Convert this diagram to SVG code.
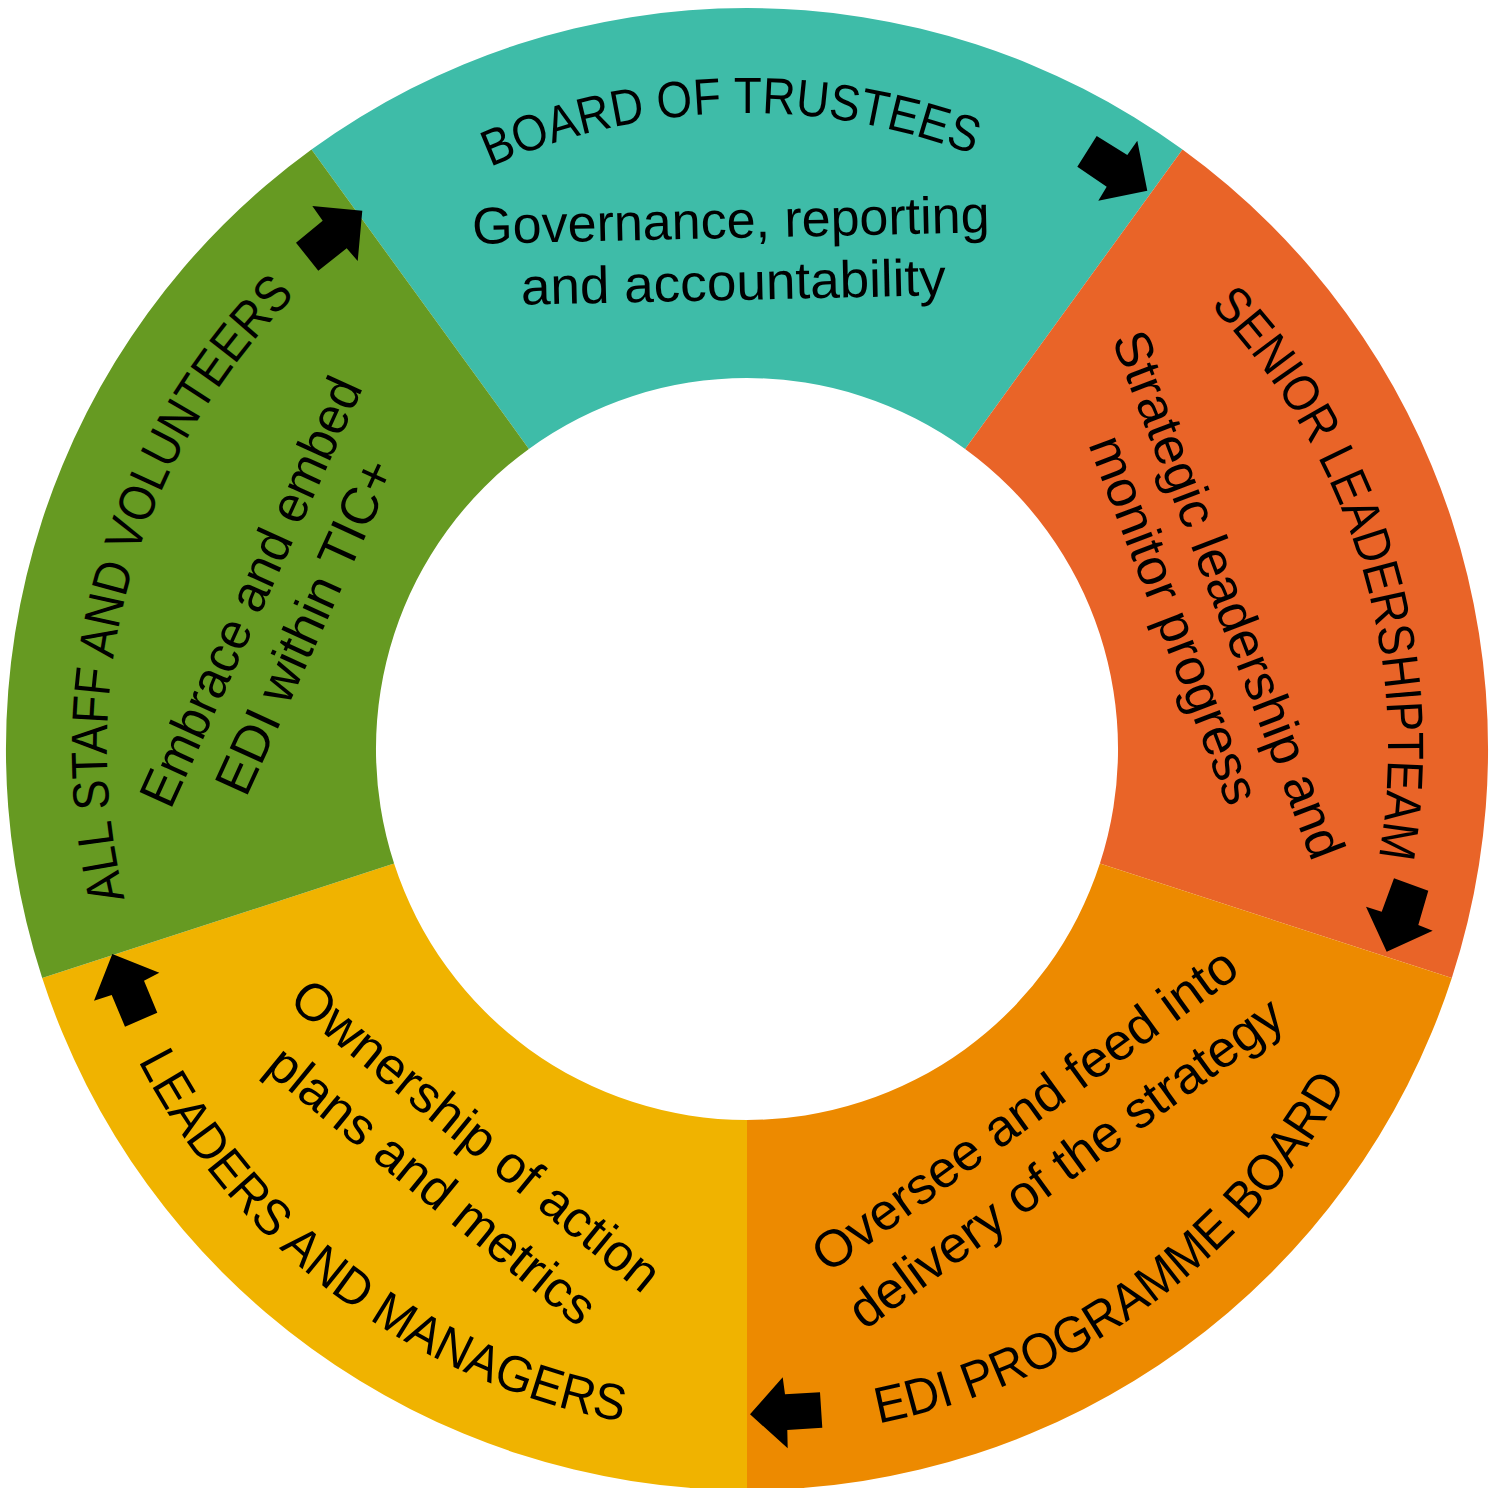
<svg xmlns="http://www.w3.org/2000/svg" xmlns:xlink="http://www.w3.org/1999/xlink" width="1502" height="1488" viewBox="0 0 1502 1488">
<style>
.t{font-family:"Liberation Sans",Arial,sans-serif;fill:#000;}
.title{font-size:51px;}
.body{font-size:52px;}
.arrow{fill:#000;}
</style>
<defs>
<path id="pBoard" d="M359.8,244.4 A636,636 0 0 1 1107.2,224.9"/>
<path id="pSlt" d="M1132.8,237.1 A641,641 0 0 1 1353.1,957.7"/>
<path id="pStaff" d="M146.4,970.0 A640,640 0 0 1 351.2,246.0"/>
<path id="pLead" d="M93.9,952.4 A684,684 0 0 0 738.6,1433.0"/>
<path id="pEdi" d="M738.6,1435.9 A687,687 0 0 0 1397.7,969.3"/>
</defs>
<rect width="1502" height="1488" fill="#fff"/>
<g id="node-board">
<path fill="#3EBCA8" d="M311.5,149.5 A741,741 0 0 1 1182.5,149.5 L965.1,448.9 A371,371 0 0 0 528.9,448.9 Z"/>
<text class="t title"><textPath xlink:href="#pBoard" href="#pBoard" startOffset="50%" text-anchor="middle" textLength="495" lengthAdjust="spacingAndGlyphs">BOARD OF TRUSTEES</textPath></text>
<g transform="rotate(-1.3 732 270)">
<text class="t body" x="732" y="238" text-anchor="middle">Governance, reporting</text>
<text class="t body" x="733" y="300" text-anchor="middle" textLength="425" lengthAdjust="spacingAndGlyphs">and accountability</text>
</g>
</g>
<g id="node-slt">
<path fill="#E96428" d="M1182.5,149.5 A741,741 0 0 1 1451.8,978.0 L1099.9,863.6 A371,371 0 0 0 965.1,448.9 Z"/>
<text class="t title"><textPath xlink:href="#pSlt" href="#pSlt" startOffset="50%" text-anchor="middle" textLength="598" lengthAdjust="spacingAndGlyphs">SENIOR LEADERSHIPTEAM</textPath></text>
<text class="t body" text-anchor="middle" transform="translate(1212 601) rotate(69)">Strategic leadership and</text>
<text class="t body" text-anchor="middle" transform="translate(1158 626) rotate(69)">monitor progress</text>
</g>
<g id="node-edi">
<path fill="#ED8A00" d="M1451.8,978.0 A741,741 0 0 1 747,1490 L747,1120 A371,371 0 0 0 1099.9,863.6 Z"/>
<text class="t title" transform="rotate(-0.6 747 749)"><textPath xlink:href="#pEdi" href="#pEdi" startOffset="50%" text-anchor="middle" textLength="596" lengthAdjust="spacingAndGlyphs">EDI PROGRAMME BOARD</textPath></text>
<text class="t body" text-anchor="middle" transform="translate(1035 1124) rotate(-36)">Oversee and feed into</text>
<text class="t body" text-anchor="middle" transform="translate(1076 1177) rotate(-36)">delivery of the strategy</text>
</g>
<g id="node-leaders">
<path fill="#F0B300" d="M747,1490 A741,741 0 0 1 42.2,978.0 L394.1,863.6 A371,371 0 0 0 747,1120 Z"/>
<text class="t title"><textPath xlink:href="#pLead" href="#pLead" startOffset="50%" text-anchor="middle" textLength="625" lengthAdjust="spacingAndGlyphs">LEADERS AND MANAGERS</textPath></text>
<text class="t body" text-anchor="middle" transform="translate(465 1149) rotate(39.3)">Ownership of action</text>
<text class="t body" text-anchor="middle" transform="translate(421 1199) rotate(39.3)">plans and metrics</text>
</g>
<g id="node-staff">
<path fill="#669A22" d="M42.2,978.0 A741,741 0 0 1 311.5,149.5 L528.9,448.9 A371,371 0 0 0 394.1,863.6 Z"/>
<text class="t title"><textPath xlink:href="#pStaff" href="#pStaff" startOffset="50%" text-anchor="middle" textLength="655" lengthAdjust="spacingAndGlyphs">ALL STAFF AND VOLUNTEERS</textPath></text>
<text class="t body" text-anchor="middle" transform="translate(267 599) rotate(-65.5)" textLength="465" lengthAdjust="spacingAndGlyphs">Embrace and embed</text>
<text class="t body" text-anchor="middle" transform="translate(321 634) rotate(-65.5)">EDI within TIC+</text>
</g>
<g id="connectors">
<polygon class="arrow" points="1096.7,136 1127.3,155 1137.3,140.7 1147.3,190.7 1098.3,200.7 1106.7,186.7 1077.3,166.7"/>
<polygon class="arrow" points="1394,878.3 1428.3,890.7 1418.3,925 1432.7,930.7 1386.7,951.7 1366,906.7 1381.7,911.7"/>
<polygon class="arrow" points="750,1414.3 782.7,1377.3 785,1394.3 820,1392.3 822.3,1427.7 787.3,1430 787.7,1448.3"/>
<polygon class="arrow" points="112.3,954 159.3,972.7 144,980.7 157.3,1012.7 125,1026.7 111.7,995 94,1000.7"/>
<polygon class="arrow" points="362.3,210.7 357.7,261 346.7,248.3 318.3,270.7 296,242.7 322.7,220.7 312.3,206"/>
</g>
</svg>
